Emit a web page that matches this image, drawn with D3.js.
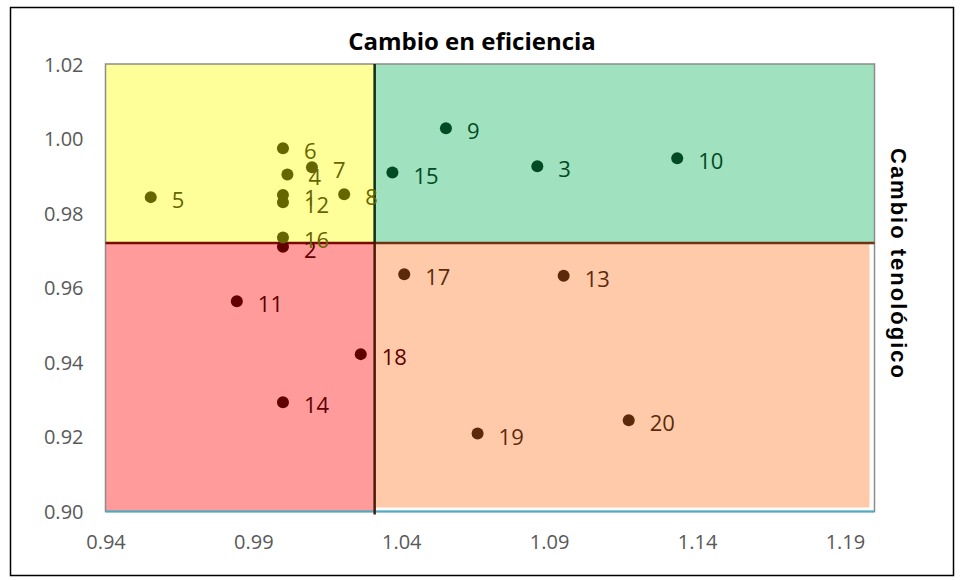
<!DOCTYPE html>
<html>
<head>
<meta charset="utf-8">
<script src="https://cdn.jsdelivr.net/npm/d3@7"></script>
<style>
  html, body { margin: 0; padding: 0; background: #fff; }
  svg { display: block; }
</style>
</head>
<body>
<svg id="chart" width="961" height="580"></svg>
<script>
// ---- data ----
const ids = ["1","2","3","4","5","6","7","8","9","10","11","12","13","14","15","16","17","18","19","20"];
const efficiency = [1.000, 1.000, 1.086, 1.0015, 0.9553, 1.000, 1.0098, 1.0207, 1.0551, 1.1333,
                    0.9844, 1.000, 1.0949, 1.000, 1.0370, 1.000, 1.0410, 1.0263, 1.0658, 1.1169];
const technology = [0.9849, 0.9710, 0.9926, 0.9904, 0.9843, 0.9974, 0.9923, 0.9851, 1.0028, 0.9947,
                    0.9564, 0.9829, 0.9632, 0.9293, 0.9909, 0.9735, 0.9636, 0.9422, 0.9209, 0.9245];
const xTicks = [0.94, 0.99, 1.04, 1.09, 1.14, 1.19];
const yTicks = [0.90, 0.92, 0.94, 0.96, 0.98, 1.00, 1.02];
const xDomain = [0.94, 1.20];
const yDomain = [0.90, 1.02];
const xSplit = 1.031;   // vertical divider (mean of efficiency)
const ySplit = 0.972;   // horizontal divider (mean of technology)
const titleText = "Cambio en eficiencia";
const sideText = "Cambio tenológico";

const points = ids.map((id, i) => ({ id, x: efficiency[i], y: technology[i] }));

// ---- layout ----
const svg = d3.select("#chart");
const L = 105.5, R = 874.5, T = 64, B = 511.5;
const x = d3.scaleLinear().domain(xDomain).range([L, R]);
const y = d3.scaleLinear().domain(yDomain).range([B, T]);

// outer border
svg.append("rect").attr("x", 10.5).attr("y", 7.5).attr("width", 943).attr("height", 568)
  .attr("fill", "#fff").attr("stroke", "#000").attr("stroke-width", 1.5);

// quadrant colours
const quad = {
  tl: { fill: "#ffff99", dot: "#666600" },
  tr: { fill: "#a0e1bf", dot: "#004b23" },
  bl: { fill: "#ff9b9b", dot: "#600000" },
  br: { fill: "#ffcaaa", dot: "#5c2a0a" }
};
function quadOf(d) {
  const right = d.x >= xSplit, top = d.y >= ySplit;
  return top ? (right ? "tr" : "tl") : (right ? "br" : "bl");
}

const g = svg.append("g");
g.append("rect").attr("x", x(xDomain[0])).attr("y", y(yDomain[1]))
  .attr("width", x(xSplit) - x(xDomain[0])).attr("height", y(ySplit) - y(yDomain[1]))
  .attr("fill", quad.tl.fill);
g.append("rect").attr("x", x(xSplit)).attr("y", y(yDomain[1]))
  .attr("width", x(xDomain[1]) - x(xSplit)).attr("height", y(ySplit) - y(yDomain[1]))
  .attr("fill", quad.tr.fill);
g.append("rect").attr("x", x(xDomain[0])).attr("y", y(ySplit))
  .attr("width", x(xSplit) - x(xDomain[0])).attr("height", y(yDomain[0]) - y(ySplit))
  .attr("fill", quad.bl.fill);
g.append("rect").attr("x", x(xSplit)).attr("y", y(ySplit))
  .attr("width", x(xDomain[1]) - 5 - x(xSplit)).attr("height", y(yDomain[0]) - 4 - y(ySplit))
  .attr("fill", quad.br.fill);

// plot area frame
g.append("rect").attr("x", L).attr("y", T).attr("width", R - L).attr("height", B - T)
  .attr("fill", "none").attr("stroke", "#8c8c8c").attr("stroke-width", 1.5);
// bottom axis line (blue)
g.append("line").attr("x1", L).attr("x2", R).attr("y1", B).attr("y2", B)
  .attr("stroke", "#4bacc6").attr("stroke-width", 2);

// dividers
g.append("line").attr("x1", x(xDomain[0])).attr("x2", x(xSplit)).attr("y1", y(ySplit)).attr("y2", y(ySplit))
  .attr("stroke", "#7a0a00").attr("stroke-width", 2.5);
g.append("line").attr("x1", x(xSplit)).attr("x2", x(xDomain[1])).attr("y1", y(ySplit)).attr("y2", y(ySplit))
  .attr("stroke", "#6e3412").attr("stroke-width", 2.5);
g.append("line").attr("x1", x(xSplit)).attr("x2", x(xSplit)).attr("y1", y(yDomain[1])).attr("y2", y(ySplit))
  .attr("stroke", "#0b2e14").attr("stroke-width", 2.5);
g.append("line").attr("x1", x(xSplit)).attr("x2", x(xSplit)).attr("y1", y(ySplit)).attr("y2", y(yDomain[0]) + 3)
  .attr("stroke", "#4a1a08").attr("stroke-width", 2.5);

// axes (labels only)
const xAxis = d3.axisBottom(x).tickValues(xTicks).tickFormat(d3.format(".2f")).tickSize(0).tickPadding(0);
const xg = svg.append("g").attr("transform", `translate(0,${B + 37})`).call(xAxis);
xg.select(".domain").remove();
xg.selectAll("text").attr("dy", 0).attr("fill", "#595959")
  .style("font-family", "'Open Sans', sans-serif").style("font-size", "20px");

const yAxis = d3.axisLeft(y).tickValues(yTicks).tickFormat(d3.format(".2f")).tickSize(0).tickPadding(0);
const yg = svg.append("g").attr("transform", `translate(${L - 22},0)`).call(yAxis);
yg.select(".domain").remove();
yg.selectAll("text").attr("dy", "0.35em").attr("fill", "#595959")
  .style("font-family", "'Open Sans', sans-serif").style("font-size", "20px");

// points
const pg = svg.append("g");
pg.selectAll("circle").data(points).join("circle")
  .attr("cx", d => x(d.x)).attr("cy", d => y(d.y)).attr("r", 6)
  .attr("fill", d => quad[quadOf(d)].dot);
pg.selectAll("text").data(points).join("text")
  .attr("x", d => x(d.x) + 21).attr("y", d => y(d.y) + 2)
  .attr("dominant-baseline", "central")
  .attr("fill", d => quad[quadOf(d)].dot)
  .style("font-family", "'Open Sans', sans-serif").style("font-size", "22px")
  .text(d => d.id);

// title
svg.append("text").attr("x", 472).attr("y", 40).attr("text-anchor", "middle")
  .attr("dominant-baseline", "central")
  .style("font-family", "'Open Sans', sans-serif").style("font-weight", "bold").style("font-size", "24px")
  .attr("fill", "#000").text(titleText);

// side label
svg.append("text").attr("transform", "translate(898,264) rotate(90)")
  .attr("text-anchor", "middle").attr("dominant-baseline", "central")
  .style("font-family", "'Liberation Sans', Arial, sans-serif").style("font-weight", "bold").style("font-size", "22px")
  .style("letter-spacing", "2px")
  .attr("fill", "#000").text(sideText);
</script>
</body>
</html>
